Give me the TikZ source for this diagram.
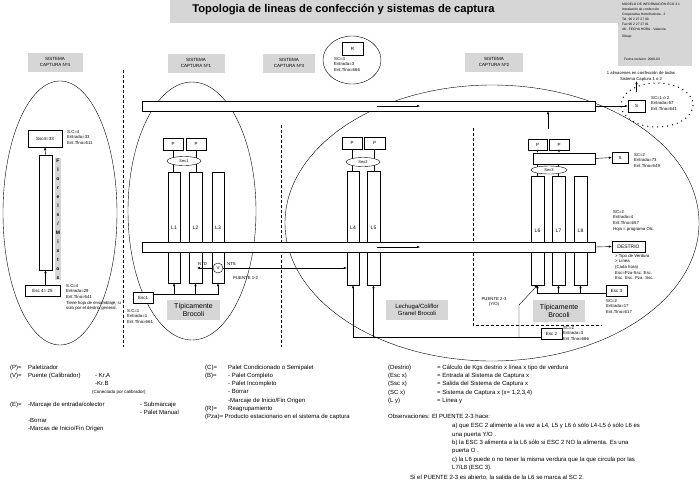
\documentclass[tikz,border=0pt]{standalone}
\usepackage{fontspec}
\setmainfont{Liberation Sans}
\usetikzlibrary{arrows.meta, positioning, calc, shapes}
\definecolor{trama}{RGB}{214,214,214}

\tikzset{
  caja/.style={draw, fill=white, inner sep=0pt, font=\fontsize{4.5}{5}\selectfont},
  columna/.style={draw, fill=white, inner sep=0pt, minimum width=13pt, minimum height=111pt, font=\fontsize{5}{6}\selectfont},
  sec/.style={draw, fill=white, ellipse, inner sep=0pt, minimum width=34pt, minimum height=9pt, font=\fontsize{4}{5}\selectfont},
  cinta/.style={draw, fill=white, inner sep=0pt, minimum width=453pt, minimum height=10pt},
  dato/.style={anchor=north west, align=left, inner sep=0pt, font=\fontsize{4.3}{5.6}\selectfont},
  rotulo/.style={fill=trama, align=center, inner sep=0pt, font=\fontsize{4.5}{5.5}\selectfont},
  leyenda/.style={anchor=north west, align=left, inner sep=0pt, font=\fontsize{6}{8.4}\selectfont},
  flecha/.style={-{Latex[length=3pt,width=2.4pt]}},
}

\begin{document}
\begin{tikzpicture}[x=1pt, y=-1pt]
  \useasboundingbox (0,0) rectangle (700,488);
  % cabecera
  \fill[trama] (170,0) rectangle (620,23);
  \fill[trama] (618,0) rectangle (692,66);
  \node[font=\bfseries\fontsize{11.2}{13}\selectfont] (titulo) at (343.5,10) {Topologia de lineas de confección y sistemas de captura};
  \node[dato, font=\fontsize{3.3}{5}\selectfont] (ficha) at (622,2) {MODELO DE INFORMACIÓN ECO 3.1\\Instalación de confección\\Cooperativa Hortofrutícola - 2\\Tel. 96 2 27 27 00\\Fax 96 2 27 27 01\\46 - FECHA HORA - Valencia\\[2pt]Dibujo};
  \node[dato, font=\fontsize{3.3}{4}\selectfont] (fecha) at (624,58) {Fecha revisión: 2000-03};

  % rotulos de sistemas
  \node[rotulo, minimum width=55pt, minimum height=19pt] (rot4) at (55,62) {SISTEMA\\CAPTURA Nº4};
  \node[rotulo, minimum width=57pt, minimum height=19pt] (rot1) at (196,63) {SISTEMA\\CAPTURA Nº1};
  \node[rotulo, minimum width=52pt, minimum height=19pt] (rot3) at (289,63) {SISTEMA\\CAPTURA Nº3};
  \node[rotulo, minimum width=58pt, minimum height=19pt] (rot2) at (494,62) {SISTEMA\\CAPTURA Nº2};

  % limites de sistemas
  \draw (60,213) ellipse [x radius=57, y radius=132];
  \draw (192,211) ellipse [x radius=64, y radius=129];
  \draw (492,223) ellipse [x radius=207, y radius=138];
  \draw (352,60) ellipse [x radius=29, y radius=24];
  \draw[dash pattern=on 1pt off 4pt, line width=1pt] (657,105) ellipse [x radius=36, y radius=22];
  \draw[dash pattern=on 3pt off 2pt] (123,70) -- (123,347);
  \draw[dash pattern=on 3pt off 2pt] (281,125) -- (281,347);
  \draw[dash pattern=on 3pt off 2pt] (473,128) -- (473,325) -- (602,325);

  % sistema 4
  \node[caja, minimum width=34pt, minimum height=17pt] (ssc4) at (45,138.5) {Ssc4=33};
  \node[columna, minimum height=115pt] (col4) at (45.5,212.5) {};
  \node[caja, minimum width=35pt, minimum height=11pt] (esc4) at (42.5,290.5) {Esc 4= 25};
  \node[fill=trama, inner sep=0.8pt, align=center, font=\bfseries\fontsize{5}{9}\selectfont] (flores) at (58,219) {F\\l\\o\\r\\e\\l\\s\\/\\M\\i\\x\\t\\o\\s};
  \draw[flecha] (col4.north) -- (ssc4.south);
  \draw[flecha] (col4.south |- esc4.north) -- (col4.south);
  \node[dato] (d4a) at (67,130) {S.C=4\\Entrada=33\\Ent.Tlno=611};
  \node[dato] (d4b) at (66,284) {S.C=4\\Entrada=29\\Ent.Tlno=641\\Tiene hoja de ensamblaje, si\\solo por el destrio general.};

  % sistema 1
  \node[caja, minimum width=20pt, minimum height=12pt] (P11) at (173,144) {P};
  \node[caja, minimum width=20pt, minimum height=12pt] (P12) at (196,144) {P};
  \node[columna, minimum width=12pt] (L1) at (174,227.5) {L1};
  \node[columna] (L2) at (195.5,227.5) {L2};
  \node[columna, minimum width=12pt] (L3) at (218,227.5) {L3};
  \draw (P11.south) -- (P11.south |- L1.north);
  \draw (P12.south) -- (P12.south |- L2.north);
  \node[sec] (sec1) at (184,161) {Sec1};

  % sistema 3
  \node[caja, minimum width=20pt, minimum height=12pt] (P31) at (352,143) {P};
  \node[caja, minimum width=21pt, minimum height=12pt] (P32) at (374.5,143) {P};
  \node[columna, minimum width=12pt, minimum height=114pt] (L4) at (353,228) {L4};
  \node[columna, minimum height=114pt] (L5) at (373.5,228) {L5};
  \draw (P31.south) -- (P31.south |- L4.north);
  \draw (P32.south) -- (P32.south |- L5.north);
  \node[sec] (sec2) at (363,162) {Sec2};
  \node[caja, minimum width=21pt, minimum height=13pt] (R) at (352.5,48.5) {R};
  \node[dato] (d3) at (334,57) {SC=3\\Entrada=3\\Ent.Tlno=666};

  % sistema 2
  \node[caja, minimum width=19pt, minimum height=11pt] (P21) at (537.5,144.5) {P};
  \node[caja, minimum width=20pt, minimum height=11pt] (P22) at (559,144.5) {P};
  \node[columna, minimum height=109pt] (L6) at (537.5,230.5) {L6};
  \node[columna, minimum height=109pt] (L7) at (558.5,230.5) {L7};
  \node[columna, minimum height=109pt] (L8) at (580.5,230.5) {L8};
  \node[caja, minimum width=62pt, minimum height=11pt] (acu2) at (564,158.5) {};
  \draw[flecha] (P21.south) -- (P21.south |- acu2.north);
  \draw[flecha] (P22.south) -- (P22.south |- acu2.north);
  \draw (acu2.south -| L6.north) -- (L6.north);
  \draw (acu2.south -| L7.north) -- (L7.north);
  \node[sec, minimum width=36pt, minimum height=8pt] (sec3) at (549,170) {Sec3};

  % cintas
  \node[cinta] (cintaSup) at (368.5,106) {};
  \node[cinta] (cintaInf) at (368.5,247) {};
  \draw[flecha] ([xshift=8.5pt]cintaSup.center) -- ++(43,0);
  \draw[flecha] ([xshift=8.5pt]cintaInf.center) -- ++(43,0);

  % salidas sistema 2
  \coordinate (p2top) at ($(P21.north east)!.5!(P22.north west)+(0,-10)$);
  \draw[flecha] (p2top) -- (p2top |- cintaSup.south);
  \node[caja, minimum width=17pt, minimum height=12pt] (S1) at (636.5,106) {S};
  \draw[flecha] (cintaSup.east) -- (S1.west);
  \node[dato] (d21) at (651,96) {SC=1 o 2\\Entrada=57\\Ent.Tlno=641};
  \node[align=center, inner sep=0pt, font=\fontsize{4.2}{6}\selectfont] (dest) at (641,76) {1 almacenes en confección de todas\\Sistema Captura 1 o 2};
  \draw[flecha] ([yshift=8pt]S1.north) -- (S1.north |- dest.south);
  \node[caja, minimum width=16pt, minimum height=11pt] (S2) at (620,157.5) {S};
  \draw[flecha] (acu2.east) -- (S2.west);
  \node[dato] (d22) at (634,153) {SC=2\\Entrada=73\\Ent.Tlno=649};
  \node[caja, minimum width=33pt, minimum height=11pt, font=\fontsize{5}{6}\selectfont] (destrio) at (628.5,246.5) {DESTRIO};
  \draw[flecha] (cintaInf.east) -- (destrio.west);
  \node[dato] (d23) at (613,210) {SC=2\\Entrada=4\\Ent.Tlno=657\\Hoja = programa Olc.};
  \node[dato] (d24) at (615,254) {> Tipo de Verdura\\> Línea\\(Cada hora)\\Esc=Pza-Ssc. Esc.\\Esc. Esc. Pza. Ssc.};

  % puente 1
  \node[draw, fill=white, circle, inner sep=0pt, minimum size=10pt, font=\fontsize{4.5}{5}\selectfont] (V1) at (218,268) {V};
  \coordinate (ntd) at (197,268);
  \draw[flecha] (V1.west) -- (ntd);
  \draw[flecha] (V1.east) -- (L4.west |- V1.east);
  \node[dato, anchor=south west] (lntd) at (198,266) {NTD};
  \node[dato, anchor=south west] (lnts) at (227,266) {NTS};
  \node[dato, anchor=west] (lp12) at (233,278) {PUENTE 1-2};

  % entradas
  \node[caja, minimum width=20pt, minimum height=11pt] (esc1) at (143,297.5) {Esc1};
  \coordinate (b1) at ([yshift=3pt]esc1.east);
  \draw (b1) -- (b1 -| L3.south);
  \foreach \l in {L1,L2,L3}
    \draw[flecha] (b1 -| \l.south) -- (\l.south);
  \node[dato] (d1) at (127,309) {S.C=1\\Entrada=1\\Ent.Tlno=661};

  \node[caja, minimum width=21pt, minimum height=11pt] (esc2) at (551.5,333.5) {Esc 2};
  \coordinate (b2) at ([yshift=2pt]esc2.south west);
  \draw[flecha] (b2) -| (L4.south);
  \draw[flecha] (L5.south |- b2) -- (L5.south);
  \coordinate (pt) at (519,305);
  \draw[flecha] (pt |- b2) -- (pt) -- (L6.south);
  \node[dato, anchor=north, align=center] (lp23) at (494,297) {PUENTE 2-3\\(Y/O)};
  \node[dato] (d2) at (563,326) {SC=2\\Entrada=3\\Ent.Tlno=666};

  \node[caja, minimum width=21pt, minimum height=11pt] (esc3) at (616.5,290.5) {Esc 3};
  \coordinate (b3) at ([yshift=-3pt]esc3.west);
  \draw (b3) -- (b3 -| L6.south);
  \foreach \l in {L6,L7,L8}
    \draw[flecha] (b3 -| \l.south) -- (\l.south);
  \node[dato] (d3b) at (606,299) {SC=2\\Entrada=17\\Ent.Tlno=617};

  % tipos de producto
  \node[rotulo, font=\fontsize{7}{8.5}\selectfont, minimum width=53pt, minimum height=20pt] (tip1) at (193.5,310) {Típicamente\\Brocoli};
  \node[rotulo, font=\fontsize{6}{7.5}\selectfont, minimum width=62pt, minimum height=20pt] (lech) at (417,310) {Lechuga/Coliflor\\Granel Brocoli};
  \node[rotulo, font=\fontsize{7}{8.5}\selectfont, minimum width=52pt, minimum height=22pt] (tip2) at (559,311) {Típicamente\\Brocoli};

  % leyenda
  \node[leyenda] (leyP) at (10,364.5) {\makebox[18pt][l]{(P)=}Paletizador\\\makebox[18pt][l]{(V)=}Puente (Calibrador)};
  \node[leyenda] (leyKr) at (95,373) {- Kr.A\\-Kr.B};
  \node[leyenda, font=\fontsize{4.5}{5}\selectfont] (leyCon) at (92,390) {(Conectado por calibrador)};
  \node[leyenda] (leyE) at (10,402) {\makebox[18pt][l]{(E)=}-Marcaje de entrada/colector};
  \node[leyenda] (leySub) at (140,402) {- Submarcaje\\- Palet Manual};
  \node[leyenda] (leyBor) at (28,418) {-Borrar\\-Marcas de Inicio/Fin Origen};
  \node[leyenda, font=\fontsize{6}{8.3}\selectfont] (leyC) at (205,364.5) {\makebox[23pt][l]{(C)=}Palet Condicionado o Semipalet\\
    \makebox[23pt][l]{(B)=}- Palet Completo\\
    \hspace*{23pt}- Palet Incompleto\\
    \hspace*{23pt}- Borrar\\
    \hspace*{23pt}-Marcaje de Inicio/Fin Origen\\
    \makebox[23pt][l]{(R)=}Reagrupamiento\\
    (Pza)= Producto estacionario en el sistema de captura};
  \node[leyenda, font=\fontsize{6}{8.3}\selectfont] (leyD) at (388,364.5) {\makebox[49pt][l]{(Destrio)}= Cálculo de Kgs destrio x línea x tipo de verdura\\
    \makebox[49pt][l]{(Esc x)}= Entrada al Sistema de Captura x\\
    \makebox[49pt][l]{(Ssc x)}= Salida del Sistema de Captura x\\
    \makebox[49pt][l]{(SC x)}= Sistema de Captura x (x= 1,2,3,4)\\
    \makebox[49pt][l]{(L y)}= Línea y};
  \node[leyenda] (leyObs) at (388,414) {Observaciones: El PUENTE 2-3 hace:};
  \node[leyenda] (leyAbc) at (452,423) {a) que ESC 2 alimente a la vez a L4, L5 y L6 ó sólo L4-L5 ó sólo L6 es\\
    una puerta Y/O .\\
    b) la ESC 3 alimenta a la L6 sólo si ESC 2 NO la alimenta. Es una\\
    puerta O .\\
    c) la L6 puede o no tener la misma verdura que la que circula por las\\
    L7/L8 (ESC 3).};
  \node[leyenda] (leySi) at (410,474.5) {Si el PUENTE 2-3 es abierto, la salida de la L6 se marca al SC 2.};
\end{tikzpicture}
\end{document}
